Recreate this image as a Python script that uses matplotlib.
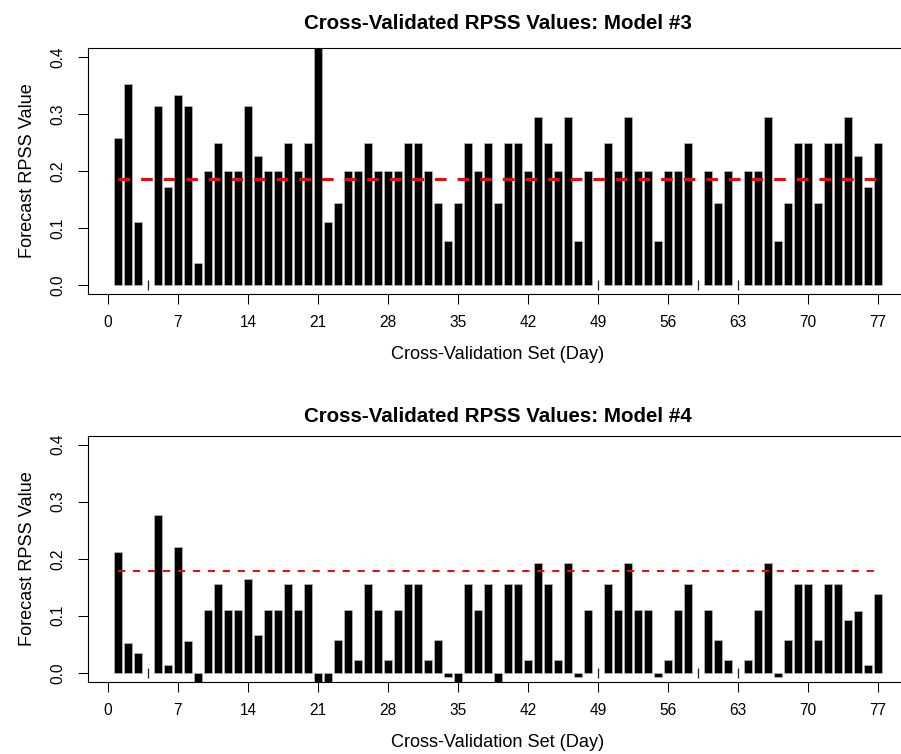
import numpy as np
import matplotlib
matplotlib.use("Agg")
import matplotlib.pyplot as plt

plt.rcParams['font.family'] = ['Liberation Sans', 'DejaVu Sans']

days = list(range(1, 78))
missing_days = [4, 49, 59, 63]

rpss_model3 = [0.258, 0.352, 0.111, np.nan, 0.315, 0.172, 0.334, 0.315, 0.039, 0.200,
               0.250, 0.200, 0.200, 0.315, 0.226, 0.200, 0.200, 0.250, 0.200, 0.250,
               0.430, 0.111, 0.143, 0.200, 0.200, 0.250, 0.200, 0.200, 0.200, 0.250,
               0.250, 0.200, 0.143, 0.077, 0.143, 0.250, 0.200, 0.250, 0.143, 0.250,
               0.250, 0.200, 0.294, 0.250, 0.200, 0.294, 0.077, 0.200, np.nan, 0.250,
               0.200, 0.294, 0.200, 0.200, 0.077, 0.200, 0.200, 0.250, np.nan, 0.200,
               0.143, 0.200, np.nan, 0.200, 0.200, 0.294, 0.077, 0.143, 0.250, 0.250,
               0.143, 0.250, 0.250, 0.294, 0.226, 0.172, 0.250]

rpss_model4 = [0.211, 0.052, 0.034, np.nan, 0.277, 0.014, 0.221, 0.055, -0.020, 0.111,
               0.156, 0.111, 0.111, 0.165, 0.066, 0.111, 0.111, 0.156, 0.111, 0.156,
               -0.020, -0.020, 0.057, 0.111, 0.022, 0.156, 0.111, 0.022, 0.111, 0.156,
               0.156, 0.022, 0.057, -0.007, -0.020, 0.156, 0.111, 0.156, -0.020, 0.156,
               0.156, 0.022, 0.192, 0.156, 0.022, 0.192, -0.007, 0.111, np.nan, 0.156,
               0.111, 0.192, 0.111, 0.111, -0.007, 0.022, 0.111, 0.156, np.nan, 0.111,
               0.057, 0.022, np.nan, 0.022, 0.111, 0.192, -0.007, 0.057, 0.156, 0.156,
               0.057, 0.156, 0.156, 0.092, 0.109, 0.014, 0.139]

mean_model3 = 0.186
mean_model4 = 0.179

titles = ["Cross-Validated RPSS Values: Model #3", "Cross-Validated RPSS Values: Model #4"]
x_ticks = list(range(0, 78, 7))
y_ticks = [0.0, 0.1, 0.2, 0.3, 0.4]
y_ticklabels = ["0.0", "0.1", "0.2", "0.3", "0.4"]
xlabel = "Cross-Validation Set (Day)"
ylabel = "Forecast RPSS Value"

W, H = 901, 754
fig = plt.figure(figsize=(W / 100, H / 100), dpi=100)

left = 87.6 / W
width = 820.8 / W
# (values, mean, top px, bottom px, red line width pt, dash pattern in lw units, title pad)
panels = [
    (rpss_model3, mean_model3, 48.0, 294.0, 2.2, (3.8, 3.6), 13.7),
    (rpss_model4, mean_model4, 435.5, 682.0, 1.4, (3.7, 4.0), 10.0),
]

for i, (vals, mean, top_px, bot_px, lw, dash, tpad) in enumerate(panels):
    ax = fig.add_axes([left, 1 - bot_px / H, width, (bot_px - top_px) / H])
    ax.bar(days, vals, width=0.84, color='black', edgecolor='#c8c8c8', linewidth=0.4)
    ax.plot(missing_days, [0] * len(missing_days), linestyle='none', marker='|',
            markersize=6.5, markeredgewidth=0.9, color='#222222')
    ax.plot([days[0], days[-1]], [mean, mean], color='red', linewidth=lw,
            dashes=dash, dash_capstyle='butt', zorder=3)
    ax.set_xlim(-2.04, 80.04)
    ax.set_ylim(-0.016, 0.416)
    ax.set_xticks(x_ticks)
    ax.set_xticklabels([str(t) for t in x_ticks], fontsize=11.2)
    ax.set_yticks(y_ticks)
    ax.set_yticklabels(y_ticklabels, fontsize=11.2, rotation=90, va='center')
    ax.tick_params(axis='both', direction='out', length=7.2, width=0.75, color='black')
    ax.tick_params(axis='x', pad=8)
    ax.tick_params(axis='y', pad=8.5)
    for s in ax.spines.values():
        s.set_linewidth(0.8)
        s.set_color('black')
    ax.spines['right'].set_visible(False)
    ax.set_xlabel(xlabel, fontsize=13.1, labelpad=11.5)
    ax.set_ylabel(ylabel, fontsize=13.1, labelpad=10.8)
    ax.set_title(titles[i], fontsize=14.8, fontweight='bold', pad=tpad)

fig.savefig("out.png", dpi=100)
